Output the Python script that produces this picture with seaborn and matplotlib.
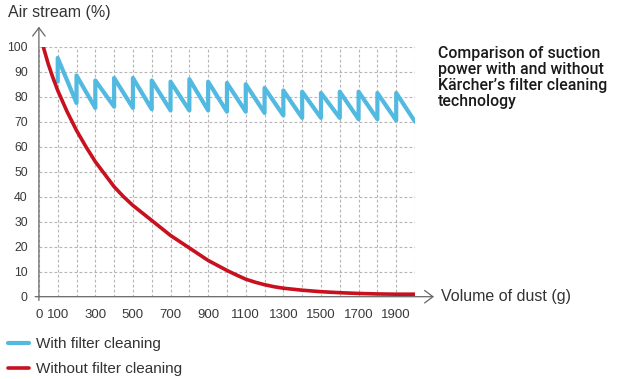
import numpy as np
import pandas as pd
import matplotlib
matplotlib.use("Agg")
import matplotlib.pyplot as plt
import seaborn as sns

# values
# with filter cleaning: sawtooth, a cleaning pulse every 100 g
tooth_x = [100, 200, 300, 400, 500, 600, 700, 800, 900, 1000,
           1100, 1200, 1300, 1400, 1500, 1600, 1700, 1800, 1900]
tooth_peak = [95.5, 88.5, 86.5, 87.5, 87.5, 86.5, 86, 87, 86, 85.5,
              85, 83.5, 82.5, 82, 81.5, 82, 82, 81.5, 81.5]
# value just before each pulse (first entry = start of the line), last = value at 2000 g
tooth_low = [86, 77.5, 75.5, 76, 75.5, 75, 74.5, 74.5, 74.5, 74,
             74, 73.5, 72.5, 71.5, 71.5, 71.5, 71, 71, 70.5]
end_x = 2000
end_val = 70

# without filter cleaning
red_x = [25, 50, 75, 100, 150, 200, 250, 300, 350, 400, 450, 500, 550, 600, 650,
         700, 750, 800, 850, 900, 950, 1000, 1050, 1100, 1150, 1200, 1250, 1300,
         1400, 1500, 1600, 1700, 1800, 1900, 2000]
red_y = [99.5, 93, 87.5, 82.5, 74, 66.5, 60, 54, 49, 44, 40, 36.5, 33.5, 30.5, 27.5,
         24.5, 22, 19.5, 17, 14.5, 12.5, 10.5, 8.7, 7, 5.8, 4.8, 4, 3.4,
         2.6, 2.0, 1.6, 1.3, 1.1, 1.0, 1.0]

x_ticks = list(range(0, 2001, 100))
x_tick_labels = ["0", "100", "", "300", "", "500", "", "700", "", "900", "",
                 "1100", "", "1300", "", "1500", "", "1700", "", "1900", ""]
y_ticks = list(range(0, 101, 10))

labels = ["With filter cleaning", "Without filter cleaning"]
colors = ["#52b9e0", "#c8101e"]

# assemble the sawtooth path from the read points
bx, by = [], []
for xv, lo, hi in zip(tooth_x, tooth_low, tooth_peak):
    bx += [xv, xv]
    by += [lo, hi]
bx.append(end_x)
by.append(end_val)
blue = pd.DataFrame({"dust": bx, "air": by})
red = pd.DataFrame({"dust": red_x, "air": red_y})

sns.set_style("white")
plt.rcParams["font.family"] = ["Liberation Sans", "DejaVu Sans"]

fig = plt.figure(figsize=(6.2, 3.79), dpi=100)
ax = fig.add_axes([38.9 / 620, 1 - 296.7 / 379, 376.1 / 620, 250 / 379])

sns.lineplot(data=blue, x="dust", y="air", sort=False, estimator=None,
             color=colors[0], lw=3.0, label=labels[0], ax=ax)
sns.lineplot(data=red, x="dust", y="air", sort=False, estimator=None,
             color=colors[1], lw=2.6, label=labels[1], ax=ax)

ax.set_xlim(0, 2000)
ax.set_ylim(0, 100)
ax.set_xticks(x_ticks)
ax.set_xticklabels(x_tick_labels)
ax.set_yticks(y_ticks)
ax.set_xlabel("")
ax.set_ylabel("")
for s in ax.spines.values():
    s.set_visible(False)

ax.grid(True, ls=(0, (2.5, 2)), color="#b5b5b5", lw=0.8)
ax.tick_params(axis="x", length=4, width=0.8, color="#c0c0c0", pad=5,
               labelsize=9.5, labelcolor="#3a3a3a")
ax.tick_params(axis="y", length=5, width=0.8, color="#777777", pad=3,
               labelsize=8.8, labelcolor="#3a3a3a")

# axis lines with open arrow heads
arw = dict(arrowstyle="->,head_length=0.6,head_width=0.45", color="#666666", lw=0.9,
           shrinkA=0, shrinkB=0)
ax.annotate("", xy=(1.0505, 0), xytext=(-0.01, 0), xycoords="axes fraction",
            textcoords="axes fraction", arrowprops=arw, annotation_clip=False)
ax.annotate("", xy=(0, 1.08), xytext=(0, -0.015), xycoords="axes fraction",
            textcoords="axes fraction", arrowprops=arw, annotation_clip=False)

ax.text(1.069, 0, "Volume of dust (g)", transform=ax.transAxes, va="center",
        ha="left", fontsize=11.5, color="#333333")
fig.text(8 / 620, 1 - 12 / 379, "Air stream (%)", va="center", ha="left",
         fontsize=11.5, color="#333333")

fig.text(438 / 620, 1 - 46 / 379,
         "Comparison of suction\npower with and without\nKärcher\u2019s filter cleaning\ntechnology",
         va="top", ha="left", fontsize=11.4, fontweight="medium",
         family=["Roboto", "Liberation Sans", "DejaVu Sans"], linespacing=1.08,
         color="#1a1a1a")

leg = ax.legend(loc="upper left", bbox_to_anchor=(8 / 620, 1 - 337 / 379),
                bbox_transform=fig.transFigure, frameon=False, fontsize=11,
                handlelength=1.4, handletextpad=0.45, labelspacing=0.75,
                borderpad=0, borderaxespad=0)
for t in leg.get_texts():
    t.set_color("#333333")

fig.savefig("out.png", dpi=100)
